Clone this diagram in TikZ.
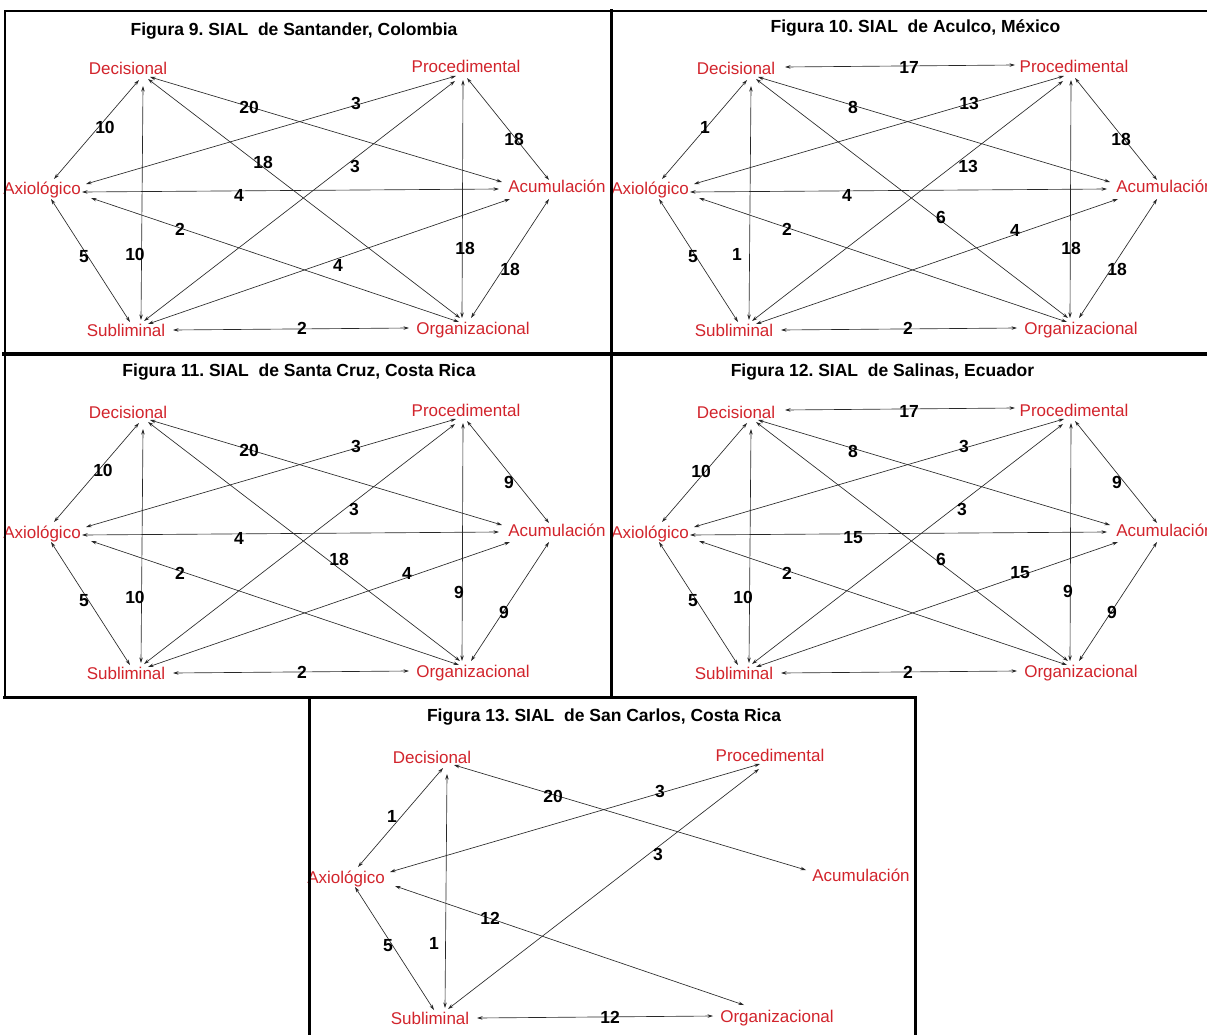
\documentclass[tikz,border=0pt]{standalone}
\usepackage{fontspec}
\setmainfont{Liberation Sans}
\usetikzlibrary{arrows.meta}
\frenchspacing
\definecolor{lblred}{RGB}{210,36,44}
\definecolor{edgegray}{RGB}{40,40,40}
\tikzset{
  lbl/.style={text=lblred, font=\fontsize{17}{20}\selectfont, inner sep=0pt, anchor=base},
  ttl/.style={font=\bfseries\fontsize{17.5}{20}\selectfont, inner sep=0pt, anchor=base},
  num/.style={font=\bfseries\fontsize{17.5}{20}\selectfont, inner sep=0pt},
  link/.style={draw=edgegray, line width=0.65pt, {Stealth[length=5.5pt,width=3.4pt]}-{Stealth[length=5.5pt,width=3.4pt]}},
  frameline/.style={draw=black, line cap=rect}
}
% nodes and ports of one panel (local coordinates)
\newcommand{\sialnodes}[1]{%
  \node[lbl] (#1dec) at (128,75) {Decisional};
  \node[lbl] (#1pro) at (466,73) {Procedimental};
  \node[lbl] (#1axi) at (42,195) {Axiológico};
  \node[lbl] (#1acu) at (557,193) {Acumulación};
  \node[lbl] (#1sub) at (126,336) {Subliminal};
  \node[lbl] (#1org) at (473,334) {Organizacional};
  \coordinate (#1DecAxi) at (139,80);
  \coordinate (#1DecSub) at (143,86);
  \coordinate (#1DecOrg) at (148,79);
  \coordinate (#1DecAcu) at (150,77);
  \coordinate (#1DecPro) at (177,67);
  \coordinate (#1ProAxi) at (456,76);
  \coordinate (#1ProSub) at (455,81);
  \coordinate (#1ProOrg) at (463,80);
  \coordinate (#1ProAcu) at (467,78);
  \coordinate (#1ProDec) at (407,65);
  \coordinate (#1AxiDec) at (54,179);
  \coordinate (#1AxiPro) at (86,184);
  \coordinate (#1AxiAcu) at (82,192);
  \coordinate (#1AxiOrg) at (91,198);
  \coordinate (#1AxiSub) at (51,199);
  \coordinate (#1AcuDec) at (502,182);
  \coordinate (#1AcuPro) at (549,180);
  \coordinate (#1AcuAxi) at (499,189);
  \coordinate (#1AcuSub) at (510,199);
  \coordinate (#1AcuOrg) at (549,199);
  \coordinate (#1SubAxi) at (130,322);
  \coordinate (#1SubDec) at (141,320);
  \coordinate (#1SubPro) at (144,321);
  \coordinate (#1SubAcu) at (148,324);
  \coordinate (#1SubOrg) at (173,330);
  \coordinate (#1OrgDec) at (460,318);
  \coordinate (#1OrgPro) at (462,318);
  \coordinate (#1OrgAxi) at (459,322);
  \coordinate (#1OrgAcu) at (471,318);
  \coordinate (#1OrgSub) at (409,328);
}
% #1 prefix, #2 from port, #3 to port, #4 label, #5,#6 label position
\newcommand{\sedge}[6]{%
  \draw[link] (#1#2) -- (#1#3);
  \node[num] at (#5,#6) {#4};
}
\begin{document}
\begin{tikzpicture}[x=1pt,y=-1pt]
\useasboundingbox (0,0) rectangle (1207,1035);
\fill[white] (0,0) rectangle (1207,1035);

% ---------- Figura 9 ----------
\begin{scope}[shift={(0,0)}]
  \sialnodes{a}
  \sedge{a}{DecAxi}{AxiDec}{10}{105}{127}
  \sedge{a}{DecSub}{SubDec}{10}{135}{254}
  \sedge{a}{DecAcu}{AcuDec}{20}{249}{107}
  \sedge{a}{DecOrg}{OrgDec}{18}{263}{162}
  \sedge{a}{ProAxi}{AxiPro}{3}{356}{103}
  \sedge{a}{ProSub}{SubPro}{3}{355}{166}
  \sedge{a}{ProOrg}{OrgPro}{18}{465}{248}
  \sedge{a}{ProAcu}{AcuPro}{18}{514}{139}
  \sedge{a}{AxiAcu}{AcuAxi}{4}{239}{195}
  \sedge{a}{AxiOrg}{OrgAxi}{2}{180}{229}
  \sedge{a}{AxiSub}{SubAxi}{5}{84}{257}
  \sedge{a}{AcuSub}{SubAcu}{4}{338}{265}
  \sedge{a}{AcuOrg}{OrgAcu}{18}{510}{269}
  \sedge{a}{SubOrg}{OrgSub}{2}{302}{328}
\end{scope}

% ---------- Figura 10 ----------
\begin{scope}[shift={(608,0)}]
  \sialnodes{b}
  \sedge{b}{DecPro}{ProDec}{17}{301}{67}
  \sedge{b}{DecAxi}{AxiDec}{1}{97}{127}
  \sedge{b}{DecSub}{SubDec}{1}{129}{254}
  \sedge{b}{DecAcu}{AcuDec}{8}{245}{107}
  \sedge{b}{DecOrg}{OrgDec}{6}{333}{217}
  \sedge{b}{ProAxi}{AxiPro}{13}{361}{103}
  \sedge{b}{ProSub}{SubPro}{13}{360}{166}
  \sedge{b}{ProOrg}{OrgPro}{18}{463}{248}
  \sedge{b}{ProAcu}{AcuPro}{18}{513}{139}
  \sedge{b}{AxiAcu}{AcuAxi}{4}{239}{195}
  \sedge{b}{AxiOrg}{OrgAxi}{2}{179}{229}
  \sedge{b}{AxiSub}{SubAxi}{5}{85}{257}
  \sedge{b}{AcuSub}{SubAcu}{4}{407}{230}
  \sedge{b}{AcuOrg}{OrgAcu}{18}{509}{269}
  \sedge{b}{SubOrg}{OrgSub}{2}{300}{328}
\end{scope}

% ---------- Figura 11 ----------
\begin{scope}[shift={(0,343)}]
  \sialnodes{c}
  \sedge{c}{DecAxi}{AxiDec}{10}{103}{127}
  \sedge{c}{DecSub}{SubDec}{10}{135}{254}
  \sedge{c}{DecAcu}{AcuDec}{20}{249}{107}
  \sedge{c}{DecOrg}{OrgDec}{18}{339}{216}
  \sedge{c}{ProAxi}{AxiPro}{3}{356}{103}
  \sedge{c}{ProSub}{SubPro}{3}{354}{166}
  \sedge{c}{ProOrg}{OrgPro}{9}{459}{249}
  \sedge{c}{ProAcu}{AcuPro}{9}{509}{139}
  \sedge{c}{AxiAcu}{AcuAxi}{4}{239}{195}
  \sedge{c}{AxiOrg}{OrgAxi}{2}{180}{230}
  \sedge{c}{AxiSub}{SubAxi}{5}{84}{258}
  \sedge{c}{AcuSub}{SubAcu}{4}{407}{230}
  \sedge{c}{AcuOrg}{OrgAcu}{9}{504}{269}
  \sedge{c}{SubOrg}{OrgSub}{2}{302}{329}
\end{scope}

% ---------- Figura 12 ----------
\begin{scope}[shift={(608,343)}]
  \sialnodes{d}
  \sedge{d}{DecPro}{ProDec}{17}{301}{68}
  \sedge{d}{DecAxi}{AxiDec}{10}{93}{128}
  \sedge{d}{DecSub}{SubDec}{10}{135}{254}
  \sedge{d}{DecAcu}{AcuDec}{8}{245}{108}
  \sedge{d}{DecOrg}{OrgDec}{6}{333}{216}
  \sedge{d}{ProAxi}{AxiPro}{3}{356}{103}
  \sedge{d}{ProSub}{SubPro}{3}{354}{166}
  \sedge{d}{ProOrg}{OrgPro}{9}{460}{248}
  \sedge{d}{ProAcu}{AcuPro}{9}{509}{139}
  \sedge{d}{AxiAcu}{AcuAxi}{15}{245}{195}
  \sedge{d}{AxiOrg}{OrgAxi}{2}{179}{230}
  \sedge{d}{AxiSub}{SubAxi}{5}{85}{258}
  \sedge{d}{AcuSub}{SubAcu}{15}{412}{230}
  \sedge{d}{AcuOrg}{OrgAcu}{9}{504}{269}
  \sedge{d}{SubOrg}{OrgSub}{2}{300}{329}
\end{scope}

% ---------- Figura 13 ----------
\begin{scope}[shift={(304,688)}]
  \sialnodes{e}
  \coordinate (eOrgAxi) at (440,317);
  \sedge{e}{DecAxi}{AxiDec}{1}{88}{128}
  \sedge{e}{DecSub}{SubDec}{1}{130}{255}
  \sedge{e}{DecAcu}{AcuDec}{20}{249}{108}
  \sedge{e}{ProAxi}{AxiPro}{3}{356}{103}
  \sedge{e}{ProSub}{SubPro}{3}{354}{166}
  \sedge{e}{AxiOrg}{OrgAxi}{12}{186}{230}
  \sedge{e}{AxiSub}{SubAxi}{5}{84}{258}
  \sedge{e}{SubOrg}{OrgSub}{12}{306}{329}
\end{scope}

% titles
\node[ttl] (t9)  at (294,36)    {Figura 9. SIAL\ \ de Santander, Colombia};
\node[ttl] (t10) at (915.5,33)  {Figura 10. SIAL\ \ de Aculco, México};
\node[ttl] (t11) at (299,376)   {Figura 11. SIAL\ \ de Santa Cruz, Costa Rica};
\node[ttl] (t12) at (882.5,376) {Figura 12. SIAL\ \ de Salinas, Ecuador};
\node[ttl] (t13) at (604,721)   {Figura 13. SIAL\ \ de San Carlos, Costa Rica};

% frames
\draw[frameline, line width=2.2pt] (5,11) -- (1210,11);
\draw[frameline, line width=2.2pt] (5,11) -- (5,697);
\draw[frameline, line width=4pt] (4,354) -- (1210,354);
\draw[frameline, line width=3.4pt] (611.7,11) -- (611.7,697);
\draw[frameline, line width=3pt] (4,697.5) -- (915,697.5);
\draw[frameline, line width=3pt] (309.5,697.5) -- (309.5,1040);
\draw[frameline, line width=3pt] (915,697.5) -- (915,1040);
\end{tikzpicture}
\end{document}
